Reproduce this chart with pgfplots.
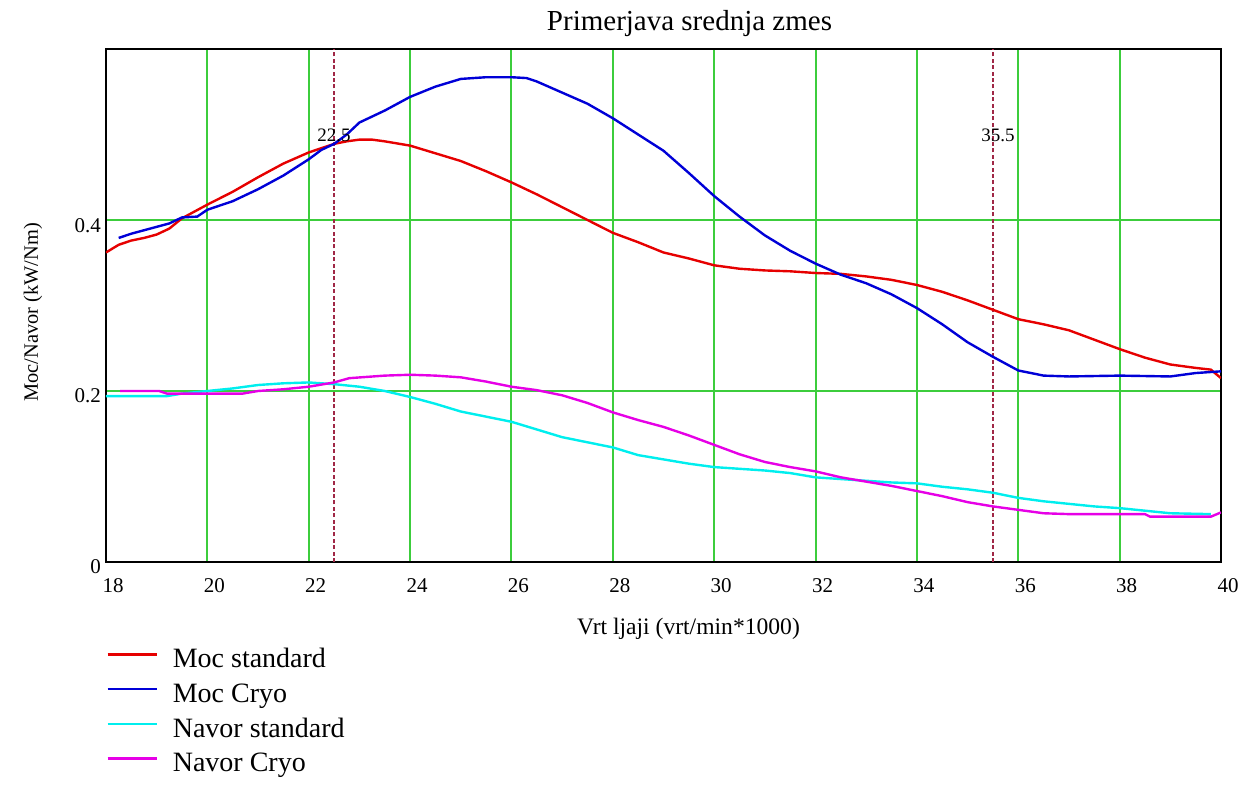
\documentclass[border=0pt]{standalone}
\usepackage{fontspec}
\setmainfont{Liberation Serif}
\usepackage{pgfplots}
\pgfplotsset{compat=1.18}
\definecolor{cred}{RGB}{230,0,0}
\definecolor{cblue}{RGB}{0,0,215}
\definecolor{ccyan}{RGB}{0,238,238}
\definecolor{cmag}{RGB}{230,0,230}
\definecolor{cgrid}{RGB}{60,205,60}
\definecolor{cdash}{RGB}{160,40,70}
\begin{document}
\begin{tikzpicture}
\useasboundingbox (0,0) rectangle (630pt,393.5pt);
\begin{axis}[
  at={(53pt,112.5pt)}, anchor=south west,
  scale only axis, width=557.5pt, height=256.5pt,
  xmin=18, xmax=40, ymin=0, ymax=0.6,
  xtick={18,20,22,24,26,28,30,32,34,36,38,40}, ytick={0,0.2,0.4},
  xmajorgrids=true, ymajorgrids=true,
  major grid style={color=cgrid, line width=1pt},
  major tick length=0pt,
  axis line style={line width=1.4pt},
  /pgf/number format/assume math mode=true,
  tick label style={font=\fontsize{10.5}{12}\selectfont},
  xticklabel style={anchor=base, yshift=-15.5pt, xshift=3.5pt},
  yticklabel style={anchor=base east, yshift=-6pt, xshift=1pt},
  title={Primerjava srednja zmes},
  title style={font=\fontsize{14.5}{17}\selectfont, at={(axis description cs:0.5,1)}, anchor=base, yshift=3.5pt, xshift=13pt},
  xlabel={Vrt ljaji (vrt/min*1000)},
  xlabel style={font=\fontsize{11.8}{14}\selectfont, at={(axis description cs:0.5,0)}, anchor=base, yshift=-36.5pt, xshift=12.5pt},
  ylabel={Moc/Navor (kW/Nm)},
  ylabel style={font=\fontsize{10.2}{12}\selectfont, at={(axis description cs:-0.0655,0.487)}, anchor=center},
  legend style={at={(axis description cs:0,0)}, anchor=north west, yshift=-43.5pt,
    draw=none, fill=none, inner sep=0pt, font=\fontsize{14}{16}\selectfont,
    row sep=5pt, nodes={inner sep=0pt, text height=9.3pt, text depth=3pt},
    /tikz/every odd column/.style={column sep=7.5pt}},
  legend cell align=left,
  legend image code/.code={\draw[#1, line width=1.2pt] (0pt,3.5pt) -- (24.5pt,3.5pt);},
]
\addplot[color=cdash, line width=0.6pt, dash pattern=on 2pt off 1.2pt, forget plot] coordinates {(22.5,0) (22.5,0.6)};
\addplot[color=cdash, line width=0.6pt, dash pattern=on 2pt off 1.2pt, forget plot] coordinates {(35.5,0) (35.5,0.6)};

\addplot[color=cred, line width=1.2pt] coordinates {
(18.0,0.362) (18.25,0.371) (18.5,0.376) (18.75,0.379) (19.0,0.383) (19.25,0.390)
(19.5,0.402) (19.75,0.410) (20.0,0.418) (20.5,0.433) (21.0,0.450) (21.5,0.466)
(22.0,0.479) (22.25,0.484) (22.5,0.489) (22.75,0.492) (23.0,0.494) (23.25,0.494)
(23.5,0.492) (24.0,0.487) (24.5,0.478) (25.0,0.469) (25.5,0.457) (26.0,0.444)
(26.5,0.430) (27.0,0.415) (27.5,0.400) (28.0,0.385) (28.5,0.374) (29.0,0.362)
(29.5,0.355) (30.0,0.347) (30.5,0.343) (31.0,0.341) (31.5,0.340) (32.0,0.338)
(32.5,0.337) (33.0,0.334) (33.5,0.330) (34.0,0.324) (34.5,0.316) (35.0,0.306)
(35.5,0.295) (36.0,0.284) (36.5,0.278) (37.0,0.271) (37.5,0.260) (38.0,0.249)
(38.5,0.239) (39.0,0.231) (39.5,0.227) (39.8,0.225) (39.9,0.220) (40.0,0.215)
};
\addlegendentry{Moc standard}

\addplot[color=cblue, line width=1.2pt] coordinates {
(18.25,0.379) (18.5,0.384) (18.75,0.388) (19.0,0.392) (19.25,0.396) (19.5,0.403)
(19.8,0.404) (20.0,0.412) (20.5,0.422) (21.0,0.436) (21.5,0.452) (22.0,0.471)
(22.25,0.482) (22.5,0.489) (22.75,0.500) (23.0,0.514) (23.5,0.528) (24.0,0.544)
(24.5,0.556) (25.0,0.565) (25.5,0.567) (26.0,0.567) (26.3,0.566) (26.5,0.562)
(27.0,0.549) (27.5,0.536) (28.0,0.519) (28.5,0.500) (29.0,0.481) (29.5,0.455)
(30.0,0.428) (30.5,0.404) (31.0,0.382) (31.5,0.364) (32.0,0.349) (32.5,0.336)
(33.0,0.326) (33.5,0.313) (34.0,0.297) (34.5,0.278) (35.0,0.257) (35.5,0.240)
(36.0,0.224) (36.5,0.218) (37.0,0.217) (38.0,0.218) (39.0,0.217) (39.5,0.221)
(40.0,0.223)
};
\addlegendentry{Moc Cryo}

\addplot[color=ccyan, line width=1.2pt] coordinates {
(18.0,0.194) (19.2,0.194) (19.5,0.197) (20.0,0.200) (20.5,0.203) (21.0,0.207)
(21.5,0.209) (22.0,0.210) (22.5,0.208) (23.0,0.205) (23.5,0.200) (24.0,0.193)
(24.5,0.185) (25.0,0.176) (25.5,0.170) (26.0,0.164) (26.5,0.155) (27.0,0.146)
(27.5,0.140) (28.0,0.134) (28.5,0.125) (29.0,0.120) (29.5,0.115) (30.0,0.111)
(30.5,0.109) (31.0,0.107) (31.5,0.104) (32.0,0.099) (32.5,0.097) (33.0,0.095)
(33.5,0.093) (34.0,0.092) (34.5,0.088) (35.0,0.085) (35.5,0.081) (36.0,0.075)
(36.5,0.071) (37.0,0.068) (37.5,0.065) (38.0,0.063) (38.5,0.060) (39.0,0.057)
(39.8,0.056)
};
\addlegendentry{Navor standard}

\addplot[color=cmag, line width=1.2pt] coordinates {
(18.28,0.200) (19.05,0.200) (19.2,0.197) (20.7,0.197) (21.0,0.200) (21.5,0.202)
(22.0,0.205) (22.5,0.210) (22.8,0.215) (23.5,0.218) (24.0,0.219) (24.5,0.218)
(25.0,0.216) (25.5,0.211) (26.0,0.205) (26.5,0.201) (27.0,0.195) (27.5,0.186)
(28.0,0.175) (28.5,0.166) (29.0,0.158) (29.5,0.148) (30.0,0.137) (30.5,0.126)
(31.0,0.117) (31.5,0.111) (32.0,0.106) (32.5,0.099) (33.0,0.094) (33.5,0.089)
(34.0,0.083) (34.5,0.077) (35.0,0.070) (35.5,0.065) (36.0,0.061) (36.5,0.057)
(37.0,0.056) (38.5,0.056) (38.6,0.053) (39.8,0.053) (40.0,0.058)
};
\addlegendentry{Navor Cryo}

\node[font=\fontsize{9.5}{11}\selectfont] at (axis cs:22.5,0.4985) {22.5};
\node[font=\fontsize{9.5}{11}\selectfont] at (axis cs:35.6,0.4985) {35.5};
\end{axis}
\end{tikzpicture}
\end{document}
